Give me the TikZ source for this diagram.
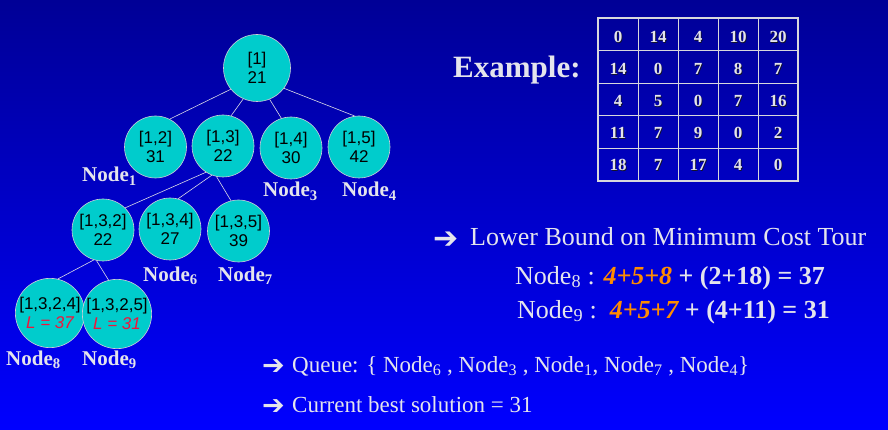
\documentclass[tikz,border=0pt]{standalone}
\usepackage{fontspec}
\setmainfont{Liberation Serif}
\setsansfont{Liberation Sans}
\newfontfamily\arrowfont{DejaVu Sans Bold}
\definecolor{bgtop}{RGB}{0,0,150}
\definecolor{bgbot}{RGB}{0,0,255}
\definecolor{cyanfill}{RGB}{0,204,204}
\definecolor{circborder}{RGB}{205,205,215}
\definecolor{edgecol}{RGB}{220,220,230}
\definecolor{lighttext}{RGB}{228,228,236}
\definecolor{gridcol}{RGB}{215,215,220}
\definecolor{shadowc}{RGB}{20,20,40}
\definecolor{orangec}{RGB}{255,140,0}
\definecolor{redc}{RGB}{240,20,60}
\newcommand{\setfs}[2]{\fontsize{#1pt}{#2pt}\selectfont}
\newcommand{\shtext}[1]{\makebox[0pt][l]{\kern0.9pt\raisebox{-0.9pt}{\color{shadowc}#1}}#1}
\begin{document}
\begin{tikzpicture}[x=1pt,y=-1pt,
  tnode/.style={circle,draw=circborder,line width=0.6pt,fill=cyanfill,minimum size=62pt,inner sep=0pt,align=center,font=\sffamily\setfs{17}{19.5},text=black},
  edge/.style={draw=edgecol,line width=0.6pt},
  nlabel/.style={anchor=base west,inner sep=0pt,text=lighttext,font=\bfseries\setfs{21}{21}},
  rtext/.style={anchor=base west,inner sep=0pt,text=lighttext},
  arr/.style={anchor=base west,inner sep=0pt,text=lighttext,font=\arrowfont\setfs{30}{30}},
  cell/.style={inner sep=0pt,text=lighttext,font=\bfseries\setfs{17}{17}}
]
\shade[top color=bgtop,bottom color=bgbot] (0,0) rectangle (888,430);
\path[use as bounding box] (0,0) rectangle (888,430);

% tree nodes
\node[tnode,minimum size=67pt] (r) at (257,68) {[1]\\21};
\node[tnode] (n12) at (155.5,147) {[1,2]\\31};
\node[tnode] (n13) at (223,146) {[1,3]\\22};
\node[tnode] (n14) at (291,148) {[1,4]\\30};
\node[tnode] (n15) at (359,147) {[1,5]\\42};
\node[tnode] (n132) at (103,230) {[1,3,2]\\22};
\node[tnode] (n134) at (170,229) {[1,3,4]\\27};
\node[tnode] (n135) at (238.5,231) {[1,3,5]\\39};
\node[tnode] (n1324) at (50,313) {[1,3,2,4]\\\textcolor{redc}{\itshape L = 37}};
\node[tnode] (n1325) at (117,314) {[1,3,2,5]\\\textcolor{redc}{\itshape L = 31}};

% edges
\draw[edge] (r.219) -- (n12.63);
\draw[edge] (r.246) -- (n13.75);
\draw[edge] (r.292) -- (n14.108);
\draw[edge] (r.323) -- (n15.98);
\draw[edge] (n13.237) -- (n132.45);
\draw[edge] (n13.249) -- (n134.75);
\draw[edge] (n13.258) -- (n135.104);
\draw[edge] (n132.253) -- (n1324.77);
\draw[edge] (n132.258) -- (n1325.104);

% node labels
\node[nlabel] (l1) at (82,182) {Node\textsubscript{1}};
\node[nlabel] (l3) at (263,197) {Node\textsubscript{3}};
\node[nlabel] (l4) at (342,197) {Node\textsubscript{4}};
\node[nlabel] (l6) at (143,281) {Node\textsubscript{6}};
\node[nlabel] (l7) at (218,281) {Node\textsubscript{7}};
\node[nlabel] (l8) at (6,365) {Node\textsubscript{8}};
\node[nlabel] (l9) at (82,365) {Node\textsubscript{9}};

% example + matrix
\node[rtext,font=\bfseries\setfs{31}{31}] (ex) at (453,78) {Example:};
\draw[gridcol,line width=2pt] (598,18) rectangle (798,181);
\foreach \k in {1,...,4} {
  \draw[gridcol,line width=1pt] ({598+40*\k},18) -- ({598+40*\k},181);
  \draw[gridcol,line width=1pt] (598,{18+32.6*\k}) -- (798,{18+32.6*\k});
}
\foreach \row [count=\r] in {{0,14,4,10,20},{14,0,7,8,7},{4,5,0,7,16},{11,7,9,0,2},{18,7,17,4,0}} {
  \foreach \v [count=\c] in \row {
    \node[cell] (m\r\c) at ({578+40*\c},{5.5+32*\r}) {\shtext{\v}};
  }
}

% right text
\node[arr] (a1) at (433,249) {➔};
\node[rtext,font=\setfs{26}{26}] (lb) at (470,246) {Lower Bound on Minimum Cost Tour};
\node[rtext,font=\setfs{26}{26}] (e8) at (515,284) {Node\textsubscript{8} : \textbf{\textit{\color{orangec}4+5+8}} \textbf{+ (2+18) = 37}};
\node[rtext,font=\setfs{26}{26}] (e9) at (517,318) {Node\textsubscript{9} :\ \ \textbf{\textit{\color{orangec}4+5+7}} \textbf{+ (4+11) = 31}};

\node[arr,font=\arrowfont\setfs{27}{27}] (a2) at (262,374) {➔};
\node[rtext,font=\setfs{23}{23}] (q) at (292,372) {Queue: \{ Node\textsubscript{6} , Node\textsubscript{3} , Node\textsubscript{1}, Node\textsubscript{7} , Node\textsubscript{4}\}};
\node[arr,font=\arrowfont\setfs{27}{27}] (a3) at (262,414) {➔};
\node[rtext,font=\setfs{23}{23}] (cb) at (292,412) {Current best solution = 31};
\end{tikzpicture}
\end{document}
